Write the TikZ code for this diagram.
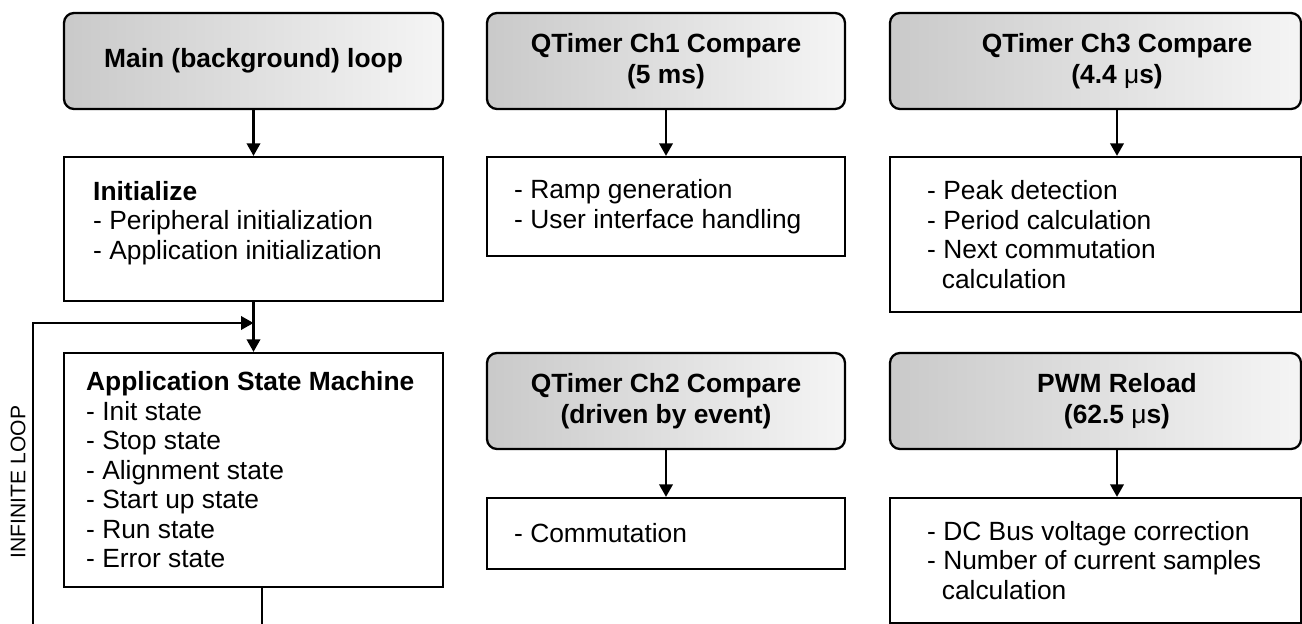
\documentclass[tikz,border=0pt]{standalone}
\usepackage{fontspec}
\setmainfont{Liberation Sans}
\usetikzlibrary{arrows.meta}

\tikzset{
  hdr/.style={draw, line width=1.3pt, rounded corners=0.2cm,
    left color=black!21, right color=black!4, minimum height=1.92cm,
    align=center, font=\fontsize{15}{17.6}\selectfont\bfseries},
  hdrtxt/.style={align=center, inner sep=0pt, font=\fontsize{15}{17.6}\selectfont\bfseries},
  lst/.style={draw, line width=1.3pt},
  lsttxt/.style={anchor=west, align=left, inner sep=0pt},
  arr/.style={line width=1.2pt, -{Triangle[length=0.25cm,width=0.27cm]}},
  wire/.style={line width=1.2pt}
}

\begin{document}
\begin{tikzpicture}[font=\fontsize{15}{16.8}\selectfont]
\useasboundingbox (0,0) rectangle (26.04,-12.48);

% Main loop
\node[hdr, minimum width=7.58cm] (mainhdr) at (5.07,-1.22) {Main (background) loop};
\node[lst, minimum width=7.58cm, minimum height=2.88cm] (init) at (5.07,-4.58) {};
\node[lsttxt] (inittxt) at ([xshift=0.6cm,yshift=0.12cm]init.west)
  {\textbf{Initialize}\\- Peripheral initialization\\- Application initialization};
\node[lst, minimum width=7.58cm, minimum height=4.68cm] (asm) at (5.07,-9.40) {};
\node[lsttxt] (asmtxt) at ([xshift=0.46cm]asm.west)
  {\textbf{Application State Machine}\\- Init state\\- Stop state\\- Alignment state\\- Start up state\\- Run state\\- Error state};

\coordinate (join) at (5.07,-6.46);
\coordinate (loopin) at (0.66,-12.48);
\coordinate (loopout) at (5.24,-12.48);

\draw[arr] (mainhdr) -- (init);
\draw[arr] (init) -- (asm);
\draw[arr] (loopin) |- (join);
\draw[wire] (asm.south -| loopout) -- (loopout);
\node[rotate=90, font=\fontsize{12}{14}\selectfont] (looplbl) at (0.36,-9.64) {INFINITE LOOP};

% QTimer Ch1 / Ch2
\node[hdr, minimum width=7.16cm] (ch1hdr) at (13.32,-1.22) {QTimer Ch1 Compare\\(5 ms)};
\node[lst, minimum width=7.16cm, minimum height=1.98cm] (ch1box) at (13.32,-4.13) {};
\node[lsttxt] (ch1txt) at ([xshift=0.56cm]ch1box.west)
  {- Ramp generation\\- User interface handling};
\draw[arr] (ch1hdr) -- (ch1box);

\node[hdr, minimum width=7.16cm] (ch2hdr) at (13.32,-8.02) {QTimer Ch2 Compare\\(driven by event)};
\node[lst, minimum width=7.16cm, minimum height=1.42cm] (ch2box) at (13.32,-10.67) {};
\node[lsttxt] (ch2txt) at ([xshift=0.56cm]ch2box.west) {- Commutation};
\draw[arr] (ch2hdr) -- (ch2box);

% QTimer Ch3 / PWM reload
\node[hdr, minimum width=8.22cm] (ch3hdr) at (21.91,-1.22) {};
\node[hdrtxt] (ch3name) at ([xshift=0.43cm]ch3hdr.center) {QTimer Ch3 Compare\\(4.4 \textmd{μ}s)};
\node[lst, minimum width=8.22cm, minimum height=3.1cm] (ch3box) at (21.91,-4.69) {};
\node[lsttxt] (ch3txt) at ([xshift=0.76cm]ch3box.west)
  {- Peak detection\\- Period calculation\\- Next commutation\\\ \ calculation};
\draw[arr] ([xshift=0.43cm]ch3hdr.south) -- ([xshift=0.43cm]ch3box.north);

\node[hdr, minimum width=8.22cm] (pwmhdr) at (21.91,-8.02) {};
\node[hdrtxt] (pwmname) at ([xshift=0.43cm]pwmhdr.center) {PWM Reload\\(62.5 \textmd{μ}s)};
\node[lst, minimum width=8.22cm, minimum height=2.5cm] (pwmbox) at (21.91,-11.21) {};
\node[lsttxt] (pwmtxt) at ([xshift=0.76cm]pwmbox.west)
  {- DC Bus voltage correction\\- Number of current samples\\\ \ calculation};
\draw[arr] ([xshift=0.43cm]pwmhdr.south) -- ([xshift=0.43cm]pwmbox.north);

\end{tikzpicture}
\end{document}
